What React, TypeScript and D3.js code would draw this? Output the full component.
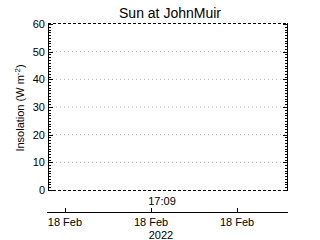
import React from "react";
import * as d3 from "d3";

const title = "Sun at JohnMuir";
const yLabel = "Insolation (W m";
const yTicks = [0, 10, 20, 30, 40, 50, 60];
const gridValues = [10, 20, 30, 40, 50];
const timeLabel = "17:09";
const yearLabel = "2022";
const xTickDates = [
  new Date(2022, 1, 18, 6, 0),
  new Date(2022, 1, 18, 12, 0),
  new Date(2022, 1, 18, 18, 0),
];
const xDomain = [new Date(2022, 1, 18, 4, 45), new Date(2022, 1, 18, 21, 33)];
const insolation: { t: Date; v: number }[] = [];

export default function App() {
  const W = 320, H = 240;
  const left = 48, right = 288, top = 24, bottom = 190;
  const y = d3.scaleLinear().domain([0, 60]).range([bottom, top]);
  const x = d3.scaleTime().domain(xDomain).range([47, 288]);
  const minor = d3.range(0, 61, 1);
  const axisY = 212;
  const font = "Liberation Sans, Arial, sans-serif";
  const line = d3
    .line<{ t: Date; v: number }>()
    .x((d) => x(d.t))
    .y((d) => y(d.v));
  const fmt = d3.timeFormat("%d %b");
  return (
    <svg
      width={W}
      height={H}
      style={{ position: "absolute", left: 0, top: 0, background: "#fff" }}
      fontFamily={font}
    >
      <rect x={0} y={0} width={W} height={H} fill="#fff" />
      <text x={170} y={18} fontSize={14} textAnchor="middle" fill="#000">
        {title}
      </text>
      {gridValues.map((v) => (
        <line
          key={"g" + v}
          x1={left}
          x2={right}
          y1={y(v)}
          y2={y(v)}
          stroke="#b0b0b0"
          strokeDasharray="1,3"
        />
      ))}
      <line x1={left} x2={right} y1={top - 0.5} y2={top - 0.5} stroke="#000" strokeDasharray="3,2" />
      <line x1={left} x2={right} y1={bottom + 0.5} y2={bottom + 0.5} stroke="#000" strokeDasharray="3,2" />
      <line x1={left + 0.5} x2={left + 0.5} y1={top - 1} y2={bottom + 1} stroke="#000" />
      <line x1={right - 0.5} x2={right - 0.5} y1={top - 1} y2={bottom + 1} stroke="#000" />
      {minor.map((v) => {
        const major = v % 10 === 0;
        const len = major ? 5 : 3;
        const yy = Math.round(y(v)) + 0.5;
        return (
          <g key={"m" + v}>
            <line x1={left} x2={left + len} y1={yy} y2={yy} stroke="#000" />
            <line x1={right} x2={right - len} y1={yy} y2={yy} stroke="#000" />
          </g>
        );
      })}
      {yTicks.map((v) => (
        <text
          key={"yt" + v}
          x={45}
          y={y(v) + 4}
          fontSize={11}
          textAnchor="end"
          fill="#000"
        >
          {v}
        </text>
      ))}
      <text
        transform={`translate(24,${108}) rotate(-90)`}
        fontSize={11}
        textAnchor="middle"
        fill="#000"
      >
        {yLabel}
        <tspan dy={-4} fontSize={8}>-2</tspan>
        <tspan dy={4}>)</tspan>
      </text>
      {insolation.length > 0 && (
        <path d={line(insolation) || ""} fill="none" stroke="#000" />
      )}
      <text x={162} y={205} fontSize={11} textAnchor="middle" fill="#000">
        {timeLabel}
      </text>
      <line x1={47} x2={288} y1={axisY + 0.5} y2={axisY + 0.5} stroke="#000" />
      {xTickDates.map((d, i) => (
        <g key={"xt" + i}>
          <line
            x1={Math.round(x(d)) + 0.5}
            x2={Math.round(x(d)) + 0.5}
            y1={axisY}
            y2={axisY - 4}
            stroke="#000"
          />
          <text x={x(d)} y={226} fontSize={11} textAnchor="middle" fill="#000">
            {fmt(d).replace(/^0/, "")}
          </text>
        </g>
      ))}
      <text x={161} y={239} fontSize={11} textAnchor="middle" fill="#000">
        {yearLabel}
      </text>
    </svg>
  );
}
